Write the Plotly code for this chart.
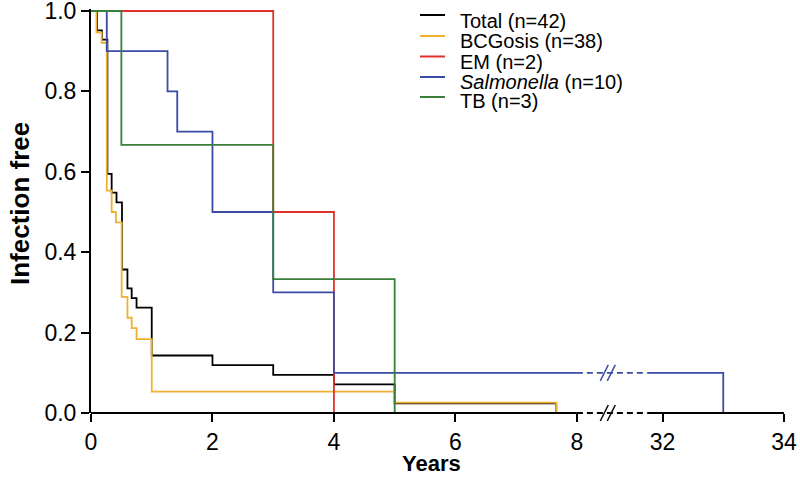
import plotly.graph_objects as go

# Kaplan-Meier steps: time in years, fraction infection free
total_t = [0, 0.10, 0.18, 0.27, 0.34, 0.42, 0.51, 0.60, 0.67, 0.75, 1.0, 2.0, 3.0, 4.0, 5.0, 7.66]
total_s = [1, 0.952, 0.929, 0.595, 0.548, 0.524, 0.357, 0.310, 0.286, 0.262, 0.143, 0.119, 0.095, 0.071, 0.024, 0]

bcg_t = [0, 0.09, 0.175, 0.26, 0.34, 0.41, 0.505, 0.60, 0.67, 0.75, 1.0, 5.0, 7.66]
bcg_s = [1, 0.947, 0.921, 0.553, 0.500, 0.474, 0.289, 0.237, 0.211, 0.184, 0.053, 0.026, 0]

em_t = [0, 3, 4]
em_s = [1, 0.5, 0]

sal_t = [0, 0.26, 1.26, 1.42, 2, 3, 4, 33]
sal_s = [1, 0.9, 0.8, 0.7, 0.5, 0.3, 0.1, 0]

tb_t = [0, 0.5, 3, 5]
tb_s = [1, 0.667, 0.333, 0]

names = ["Total (n=42)", "BCGosis (n=38)", "EM (n=2)", "<i>Salmonella</i> (n=10)", "TB (n=3)"]
colors = ["#000000", "#F0B030", "#E0302A", "#3B4BA5", "#3A7F3A"]
x_ticks = [0, 2, 4, 6, 8, 32, 34]
y_ticks = [0, 0.2, 0.4, 0.6, 0.8, 1.0]

# broken x axis: 8 .. 32 squeezed into a short gap
X_BREAK = 8.5
SHIFT = 32 - 9.41
BREAK_LO, BREAK_HI = 8.0, 31.75
FONT = "Liberation Sans, Arial, sans-serif"


def disp(t):
    return t if t <= X_BREAK else t - SHIFT


XMAX = disp(34)


def pieces(t, s):
    if t[-1] <= X_BREAK:
        return [(t, s, "solid")]
    i = next(k for k, v in enumerate(t) if v > X_BREAK)
    lvl = s[i - 1]
    return [(t[:i] + [BREAK_LO], s[:i] + [lvl], "solid"),
            ([BREAK_LO, BREAK_HI], [lvl, lvl], "6px,4px"),
            ([BREAK_HI] + t[i:], [lvl] + s[i:], "solid")]


fig = go.Figure()
series = [(total_t, total_s), (bcg_t, bcg_s), (em_t, em_s), (sal_t, sal_s), (tb_t, tb_s)]
for (t, s), name, col in zip(series, names, colors):
    for xs, ys, dash in pieces(t, s):
        fig.add_trace(go.Scatter(x=[disp(v) for v in xs], y=ys, mode="lines", line_shape="hv",
                                 line=dict(color=col, width=1.8, dash=dash),
                                 name=name, showlegend=False, hoverinfo="skip"))

# x axis line drawn by hand so the break can be dashed
shapes = [
    dict(type="line", xref="paper", yref="paper", x0=0, x1=disp(BREAK_LO) / XMAX, y0=0, y1=0,
         line=dict(color="black", width=2)),
    dict(type="line", xref="paper", yref="paper", x0=disp(BREAK_LO) / XMAX, x1=disp(BREAK_HI) / XMAX,
         y0=0, y1=0, line=dict(color="black", width=2, dash="6px,4px")),
    dict(type="line", xref="paper", yref="paper", x0=disp(BREAK_HI) / XMAX, x1=1, y0=0, y1=0,
         line=dict(color="black", width=2)),
]
mark_x = 8.55 / XMAX
for yref, yanchor, col in [("paper", 0, "black"), ("y", sal_s[-2], colors[3])]:
    for dx in (-8, -1):
        shapes.append(dict(type="line", xref="paper", yref=yref, xsizemode="pixel", ysizemode="pixel",
                           xanchor=mark_x, yanchor=yanchor, x0=dx - 2, x1=dx + 6, y0=-8, y1=8,
                           line=dict(color=col, width=1.5)))

# hand-made legend
W, H, L, T = 693, 404, 91, 9
px = lambda p: (p - L) / W
py = lambda p: (413 - p) / H
annotations = []
line_rows = [15, 36, 56.5, 77, 97]
text_rows = [21, 41.5, 61.5, 81.5, 101]
for name, col, ly, ty in zip(names, colors, line_rows, text_rows):
    shapes.append(dict(type="line", xref="paper", yref="paper", x0=px(420), x1=px(445),
                       y0=py(ly), y1=py(ly), line=dict(color=col, width=2)))
    annotations.append(dict(text=name, xref="paper", yref="paper", x=px(458), y=py(ty),
                            xanchor="left", yanchor="middle", showarrow=False,
                            font=dict(family=FONT, size=20, color="black")))

annotations.append(dict(text="<b>Infection free</b>", xref="paper", yref="paper", x=px(20), y=py(204),
                        textangle=-90, showarrow=False, xanchor="center", yanchor="middle",
                        font=dict(family=FONT, size=26, color="black")))
annotations.append(dict(text="<b>Years</b>", xref="paper", yref="paper", x=px(431), y=py(464),
                        showarrow=False, xanchor="center", yanchor="middle",
                        font=dict(family=FONT, size=22, color="black")))

fig.update_layout(
    width=800, height=478, margin=dict(l=L, r=16, t=T, b=65),
    plot_bgcolor="white", paper_bgcolor="white",
    shapes=shapes, annotations=annotations,
    font=dict(family=FONT, size=23, color="black"),
)
fig.update_xaxes(range=[0, XMAX], showline=False, showgrid=False, zeroline=False, automargin=False,
                 ticks="outside", ticklen=8, tickwidth=2, tickcolor="black",
                 ticklabeloverflow="allow",
                 tickvals=[disp(v) for v in x_ticks], ticktext=[str(v) for v in x_ticks])
fig.update_yaxes(range=[0, 1.005], showline=True, linewidth=2, linecolor="black", automargin=False,
                 showgrid=False, zeroline=False, ticks="outside", ticklen=8, tickwidth=2,
                 ticklabeloverflow="allow",
                 tickcolor="black", tickvals=y_ticks, tickformat=".1f")

# page has a default body margin; drop it so the figure fills the window
fig.write_html("out.html", config={"displayModeBar": False},
               post_script="document.body.style.margin='0';")
